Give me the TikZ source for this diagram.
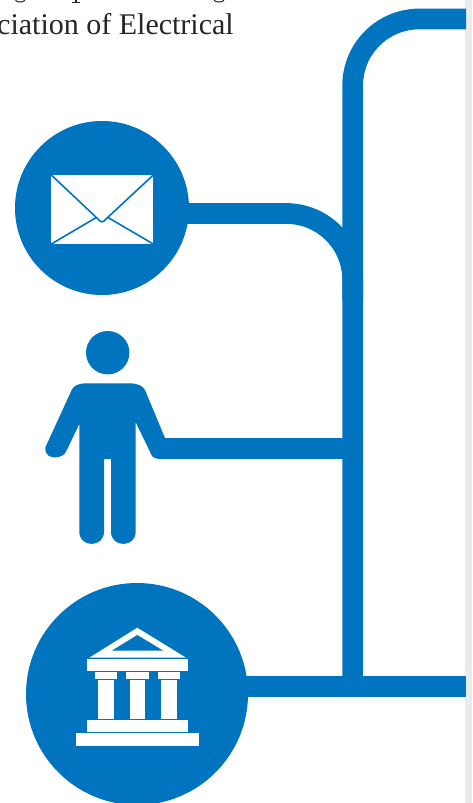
\documentclass[tikz,border=0pt]{standalone}
\usepackage{fontspec}
\setmainfont{Liberation Serif}
\definecolor{pipeblue}{HTML}{0074BF}
\definecolor{sideband}{HTML}{E8EBEF}
\definecolor{inkdark}{HTML}{262626}
\tikzset{
  pipe/.style={draw=pipeblue,line width=20.7pt,line cap=butt},
  disc/.style={circle,fill=pipeblue,inner sep=0pt},
  flap/.style={draw=pipeblue,line width=1.6pt,line cap=round,line join=round},
  solidblue/.style={fill=pipeblue,draw=none},
  solidwhite/.style={fill=white,draw=none},
  frag/.style={draw=inkdark,line width=1pt}
}
\begin{document}
\begin{tikzpicture}[x=1pt,y=-1pt]
\useasboundingbox (0,0) rectangle (472,803);
\fill[white] (0,0) rectangle (472,803);
\fill[sideband] (465,0) rectangle (472,803);
% clipped preceding line of text
\draw[frag] (15.5,0.3) .. controls (17,2.6) and (23,2.6) .. (25,0.3);
\fill[inkdark] (72,1.8) rectangle (80,2.6);
\fill[inkdark] (75,0) rectangle (77,2);
\draw[frag] (214,0.3) .. controls (216,2.6) and (222,2.6) .. (224,0.3);
% text
\node[anchor=base west,inner sep=0pt,text=inkdark,font=\fontsize{30}{32}\selectfont] (caption) at (-3,34) {ciation of Electrical};
% nodes
\node[disc,minimum size=174pt] (mail) at (102,208) {};
\node[disc,minimum size=222pt] (bank) at (137,694) {};
\node[disc,minimum size=43.4pt] (head) at (107.7,352.7) {};
% coordinates
\coordinate (topEnd) at (466,19);
\coordinate (topCorner) at (352.7,19);
\coordinate (trunkEnd) at (352.7,686.5);
\coordinate (mailStart) at (186,213.5);
\coordinate (mailCorner) at (352.7,213.5);
\coordinate (mailJoin) at (352.7,300);
\coordinate (armStart) at (158,448.3);
\coordinate (armEnd) at (352.7,448.3);
\coordinate (bankStart) at (245,686.5);
\coordinate (bankEnd) at (466,686.5);
% connectors
\draw[pipe,rounded corners=66.5pt] (topEnd) -- (topCorner) -- (trunkEnd);
\draw[pipe,rounded corners=66.5pt] (mailStart) -- (mailCorner) -- (mailJoin);
\draw[pipe] (armStart) -- (armEnd);
\draw[pipe] (bankStart) -- (bankEnd);
% envelope
\fill[solidwhite] (51.3,175) rectangle (153.3,244);
\draw[flap] (51.3,175) -- (98.5,219.5) .. controls (101,222.6) and (103,222.6) .. (105.5,219.5) -- (153.3,175);
\draw[flap] (51.3,244) -- (96,217.7);
\draw[flap] (153.3,244) -- (108.3,217.7);
% person
\path[solidblue] (85,383.3) -- (130,383.3) .. controls (138,383.5) and (143,386) .. (145,390)
  -- (165,438) -- (172,438) -- (172,458.7) -- (158,458.7)
  .. controls (153,458.7) and (151,455) .. (150,451.7)
  -- (135.7,422.3) -- (135.7,531.7)
  .. controls (135.7,548) and (111,548) .. (111,531.7)
  -- (111,459) -- (104,459) -- (104,531.7)
  .. controls (104,548) and (79.3,548) .. (79.3,531.7)
  -- (79.3,424) -- (66,451.7)
  .. controls (63,458.5) and (47,461) .. (45.3,450)
  .. controls (45,448) and (45.5,447) .. (46,446)
  -- (71.7,390) .. controls (73.5,386) and (78,383.5) .. (85,383.3) -- cycle;
% temple
\fill[solidwhite] (137.3,627.7) -- (186,657.7) -- (89.3,657.7) -- cycle;
\fill[solidblue] (137.3,635) -- (163.3,650.7) -- (111.7,650.7) -- cycle;
\fill[solidwhite] (87.3,659.3) rectangle (188,670.7);
\fill[solidwhite] (95.3,672.3) rectangle (117.3,679);
\fill[solidwhite] (126.3,672.3) rectangle (148.7,679);
\fill[solidwhite] (157.7,672.3) rectangle (180,679);
\fill[solidwhite] (98.3,680) rectangle (114,719);
\fill[solidwhite] (130,680) rectangle (145.3,719);
\fill[solidwhite] (161,680) rectangle (176.7,719);
\fill[solidwhite] (87.3,720.3) rectangle (188,732);
\fill[solidwhite] (76,733.3) rectangle (199,746);
\end{tikzpicture}
\end{document}
